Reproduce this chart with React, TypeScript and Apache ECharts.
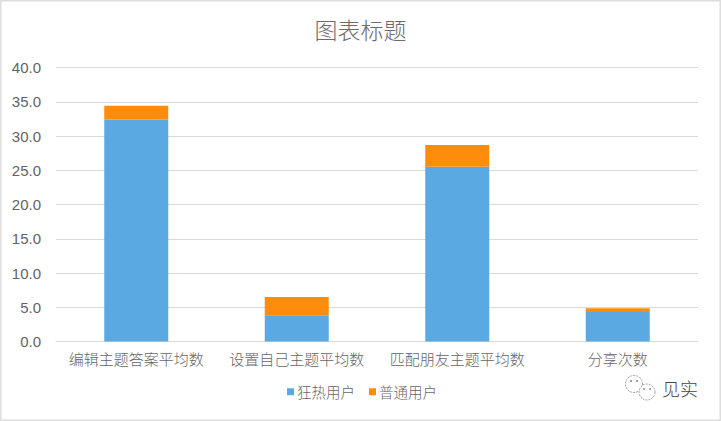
import React, { useEffect, useRef } from "react";
import * as echarts from "echarts";

const categories = ["编辑主题答案平均数", "设置自己主题平均数", "匹配朋友主题平均数", "分享次数"];
const fanUsers = [32.4, 3.85, 25.5, 4.3];
const normalUsers = [2.0, 2.65, 3.2, 0.55];
const yTickFormat = (v: number) => v.toFixed(1);
const FONT = '"Noto Sans CJK SC", "Liberation Sans", sans-serif';
const AXIS_FONT = '"Liberation Sans", "Noto Sans CJK SC", sans-serif';

export default function App() {
  const ref = useRef<HTMLDivElement>(null);
  useEffect(() => {
    const chart = echarts.init(ref.current!, undefined, { renderer: "svg" });
    chart.setOption({
      animation: false,
      backgroundColor: "#fff",
      title: {
        text: "图表标题",
        left: "center",
        top: 12,
        textStyle: { fontFamily: FONT, fontSize: 23, fontWeight: 300, color: "#6b6b6b" },
      },
      grid: { left: 56, right: 23, top: 67.5, bottom: 79.5 },
      legend: {
        bottom: 17,
        left: 282,
        icon: "rect",
        itemWidth: 7,
        itemHeight: 7,
        itemGap: 14,
        textStyle: { fontFamily: FONT, fontSize: 14.5, fontWeight: 300, color: "#666", padding: [0, 0, 0, -2] },
        data: ["狂热用户", "普通用户"],
      },
      xAxis: {
        type: "category",
        data: categories,
        axisLine: { lineStyle: { color: "#d9d9d9", width: 1 } },
        axisTick: { show: false },
        axisLabel: { fontFamily: FONT, fontSize: 15, fontWeight: 300, color: "#666", margin: 9, interval: 0 },
      },
      yAxis: {
        type: "value",
        min: 0,
        max: 40,
        interval: 5,
        axisLine: { show: false },
        axisTick: { show: false },
        splitLine: { lineStyle: { color: "#d9d9d9", width: 1 } },
        axisLabel: { fontFamily: AXIS_FONT, fontSize: 15, color: "#636363", margin: 15, formatter: yTickFormat },
      },
      series: [
        { name: "狂热用户", type: "bar", stack: "a", data: fanUsers, barWidth: 64, itemStyle: { color: "#5ba9e3" } },
        { name: "普通用户", type: "bar", stack: "a", data: normalUsers, barWidth: 64, itemStyle: { color: "#ff8c0a" } },
      ],
      graphic: [
        { type: "rect", shape: { x: 0.5, y: 0.5, width: 720, height: 420 }, style: { fill: "none", stroke: "#dedede", lineWidth: 2 }, silent: true },
        { type: "circle", shape: { cx: 634, cy: 384, r: 8.5 }, style: { fill: "#fff", stroke: "#8a8a8a", lineWidth: 0.8, lineDash: [2, 1] } },
        { type: "circle", shape: { cx: 647, cy: 392, r: 8 }, style: { fill: "#fff", stroke: "#8a8a8a", lineWidth: 0.8, lineDash: [2, 1] } },
        { type: "circle", shape: { cx: 631, cy: 381, r: 0.9 }, style: { fill: "#777" } },
        { type: "circle", shape: { cx: 637, cy: 381, r: 0.9 }, style: { fill: "#777" } },
        { type: "circle", shape: { cx: 644, cy: 389, r: 0.8 }, style: { fill: "#777" } },
        { type: "circle", shape: { cx: 650, cy: 389, r: 0.8 }, style: { fill: "#777" } },
        { type: "text", left: 662, top: 379, style: { text: "见实", font: `300 18px ${FONT}`, fill: "#444" } },
      ],
    });
    return () => chart.dispose();
  }, []);
  return <div ref={ref} style={{ position: "fixed", left: 0, top: 0, width: 721, height: 421 }} />;
}
